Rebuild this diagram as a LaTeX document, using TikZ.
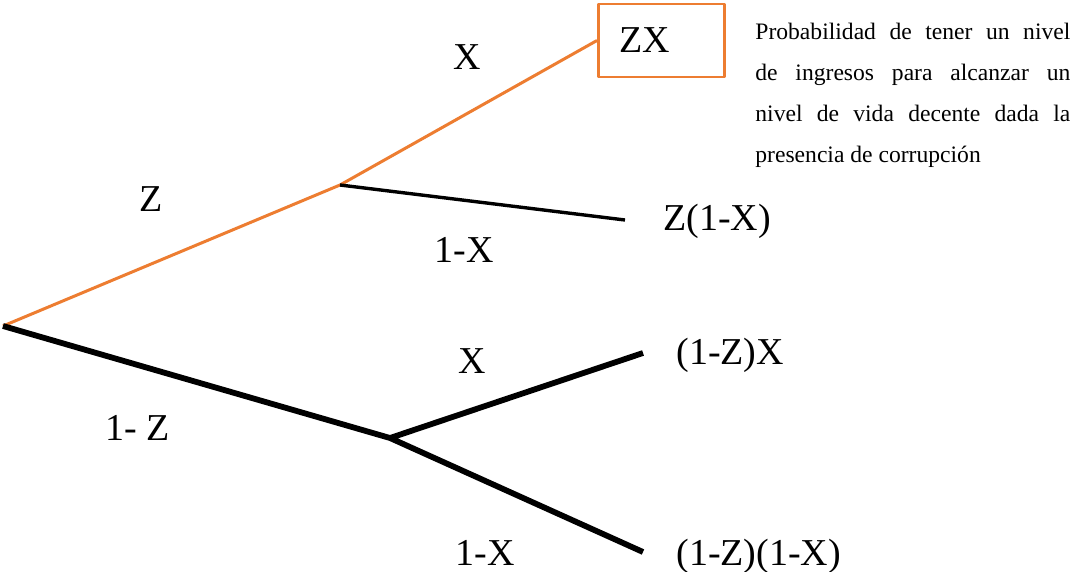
\documentclass[tikz,border=0pt]{standalone}
\usepackage{fontspec}
\setmainfont{Liberation Serif}
\definecolor{rama}{RGB}{237,125,49}
\begin{document}
\begin{tikzpicture}[x=0.5pt,y=-0.5pt,line join=round,font=\fontsize{19}{22}\selectfont,
	lbl/.style={inner sep=0pt},
	fin/.style={inner sep=0pt,anchor=west}]
			\useasboundingbox (0,0) rectangle (1075,572);
			\path 
			(3,326)coordinate(O) (340,185)coordinate(A) (390,438)coordinate(B)
			(625,220)coordinate(A2) (643,353)coordinate(B1) (643,552)coordinate(B2);
			\node[draw=rama,line width=1.4pt,anchor=west,minimum height=36.5pt,text width=42pt,inner xsep=10.5pt,align=left] (ZX) at (597,40.5) {ZX};
			\draw[rama,line width=1.5pt] (O) -- (A) -- (ZX.west);
			\draw[line width=1.7pt] (A) -- (A2);
			\draw[line width=2.9pt] (O) -- (B) (B1) -- (B) -- (B2);
			\path 
			(467,57)node[lbl](X1){X} (151,199)node[lbl](Z1){Z} (464,250)node[lbl](X2){1-X}
			(472,361)node[lbl](X3){X} (138,428)node[lbl](Z2){1- Z} (485,553)node[lbl](X4){1-X}
			(663,221)node[fin](ZX2){Z(1-X)} (676,355)node[fin](ZX3){(1-Z)X} (676,556)node[fin](ZX4){(1-Z)(1-X)};
			\node[anchor=north west,text width=157.5pt,align=justify,inner sep=0pt,font=\fontsize{11.8}{20.5}\selectfont] (nota) at (755,23)
			{Probabilidad de tener un nivel\linebreak de ingresos para alcanzar un\linebreak nivel de vida decente dada la\linebreak presencia de corrupción};
	\end{tikzpicture}
\end{document}
